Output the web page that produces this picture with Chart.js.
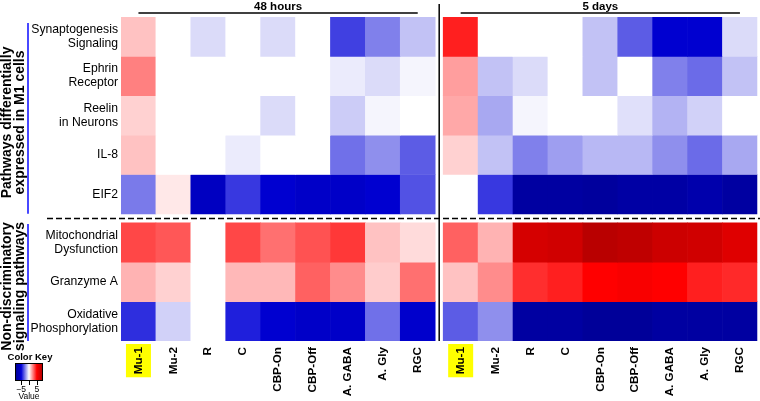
<!DOCTYPE html>
<html>
<head>
<meta charset="utf-8">
<script src="https://cdn.jsdelivr.net/npm/chart.js@4"></script>
<style>
    html, body { margin: 0; padding: 0; background: #fff; }
    #wrap { width: 760px; height: 401px; }
</style>
</head>
<body>
<div id="wrap"><canvas id="heatmap" width="760" height="401"></canvas></div>
<script>
// Pathway heatmap - 48 hours vs 5 days

const timepoints = ['48 hours', '5 days'];
const cellTypes = ['Mu-1', 'Mu-2', 'R', 'C', 'CBP-On', 'CBP-Off', 'A. GABA', 'A. Gly', 'RGC'];
const highlighted = 'Mu-1';

const pathways = [
    ['Synaptogenesis', 'Signaling'],
    ['Ephrin', 'Receptor'],
    ['Reelin', 'in Neurons'],
    ['IL-8'],
    ['EIF2'],
    ['Mitochondrial', 'Dysfunction'],
    ['Granzyme A'],
    ['Oxidative', 'Phosphorylation']
];
const groupLabels = [
    ['Pathways differentially', 'expressed in M1 cells'],
    ['Non-discriminatory', 'signaling pathways']
];
const groupRows = [[0, 4], [5, 7]];

// one row per pathway, one value per cell type
const values48h = [
    [1.2, 0, -0.7, 0, -0.7, 0, -3.75, -2.5, -1.2],
    [2.5, 0, 0, 0, 0, 0, -0.4, -0.7, -0.2],
    [0.9, 0, 0, 0, -0.7, 0, -1.0, -0.2, 0],
    [1.2, 0, 0, -0.4, 0, 0, -2.8, -2.2, -3.2],
    [-2.6, 0.45, -6.2, -3.9, -5.4, -5.8, -5.8, -5.4, -3.4],
    [3.6, 3.3, 0, 3.6, 2.8, 3.4, 3.9, 1.2, 0.7],
    [1.5, 0.9, 0, 1.4, 1.4, 3.1, 2.25, 1.0, 2.8],
    [-4.1, -0.9, 0, -4.4, -5.4, -5.8, -5.8, -2.8, -5.6]
];
const values5d = [
    [4.4, 0, 0, 0, -1.2, -3.2, -5.4, -5.4, -0.7],
    [1.9, -1.2, -0.7, 0, -1.2, 0, -2.5, -2.9, -1.2],
    [1.7, -1.7, -0.2, 0, 0, -0.6, -1.5, -0.9, 0],
    [0.9, -1.2, -2.5, -1.9, -1.4, -1.4, -2.2, -2.9, -1.7],
    [0, -3.9, -7.9, -7.9, -8.1, -7.7, -7.7, -7.3, -7.9],
    [3.1, 1.5, 7.0, 7.2, 8.3, 8.0, 7.4, 7.2, 6.5],
    [1.2, 2.25, 4.1, 4.4, 5.0, 5.3, 5.0, 4.4, 4.2],
    [-3.2, -2.2, -7.9, -7.9, -8.3, -8.3, -7.9, -7.9, -7.9]
];
const keyTicks = [-5, 0, 5];
const keyLabels = [-5, 5];
const keyRange = 9;

const PANEL_GAP = 0.23;
const ROW_GAP = 0.23;
const FONT = "'Liberation Sans', Arial, sans-serif";
const TICK_FONT = { family: FONT, size: 11.7, weight: 'bold' };
const TICK_PAD = 6;

const colPos = (c) => (c < cellTypes.length ? c : c + PANEL_GAP);
const rowTop = (r) => (r < 5 ? r : r + ROW_GAP);

const lerp = (a, b, t) => Math.round(a + (b - a) * t);
const valueColor = (v) => {
    const t = Math.min(Math.abs(v), keyRange);
    let rgb;
    if (v < 0) {
        rgb = t <= 5 ? [lerp(255, 0, t / 5), lerp(255, 0, t / 5), lerp(255, 215, t / 5)]
                     : [0, 0, lerp(215, 140, (t - 5) / 4)];
    } else {
        rgb = t <= 5 ? [255, lerp(255, 0, t / 5), lerp(255, 0, t / 5)]
                     : [lerp(255, 170, (t - 5) / 4), 0, 0];
    }
    return 'rgb(' + rgb.join(',') + ')';
};

const datasets = pathways.map((name, r) => {
    const rowVals = values48h[r].concat(values5d[r]);
    const top = rowTop(r);
    return {
        label: name.join(' '),
        data: rowVals.map((v, c) => ({ x: colPos(c), y: [top, top + 1] })),
        backgroundColor: rowVals.map(valueColor),
        borderWidth: 0,
        grouped: false,
        barPercentage: 1,
        categoryPercentage: 1
    };
});

// yellow box behind the highlighted cell type labels
const highlightPlugin = {
    id: 'highlight',
    beforeDraw(chart) {
        const { ctx } = chart;
        const x = chart.scales.x;
        ctx.save();
        ctx.font = 'bold ' + TICK_FONT.size + 'px ' + FONT;
        const w = ctx.measureText(highlighted).width;
        ctx.fillStyle = '#ffff00';
        timepoints.forEach((t, p) => {
            const i = cellTypes.indexOf(highlighted);
            const px = x.getPixelForValue(colPos(p * cellTypes.length + i));
            const y0 = x.top + TICK_PAD - 3;
            ctx.fillRect(px - 12.5, y0, 25, w + 6);
        });
        ctx.restore();
    }
};

// lines, panel headers, group labels and colour key
const decorPlugin = {
    id: 'decor',
    afterDraw(chart) {
        const { ctx, chartArea } = chart;
        const x = chart.scales.x;
        const y = chart.scales.y;
        const n = cellTypes.length;
        ctx.save();
        ctx.strokeStyle = '#000';
        ctx.fillStyle = '#000';

        // headers
        ctx.lineWidth = 1.5;
        ctx.font = 'bold 11.5px ' + FONT;
        ctx.textAlign = 'center';
        ctx.textBaseline = 'alphabetic';
        timepoints.forEach((t, p) => {
            const x0 = x.getPixelForValue(colPos(p * n));
            const x1 = x.getPixelForValue(colPos(p * n + n - 1));
            ctx.beginPath();
            ctx.moveTo(x0, 13);
            ctx.lineTo(x1, 13);
            ctx.stroke();
            ctx.fillText(t, (x0 + x1) / 2, 9.5);
        });

        // panel divider
        const xd = x.getPixelForValue(n - 0.5 + PANEL_GAP / 2);
        ctx.beginPath();
        ctx.moveTo(xd, 4);
        ctx.lineTo(xd, chartArea.bottom);
        ctx.stroke();

        // dashed group divider
        const yd = y.getPixelForValue(5 + ROW_GAP / 2);
        ctx.setLineDash([6, 3]);
        ctx.beginPath();
        ctx.moveTo(47, yd);
        ctx.lineTo(chart.width, yd);
        ctx.stroke();
        ctx.setLineDash([]);

        // group bars and rotated labels
        groupRows.forEach(([r0, r1], g) => {
            const yTop = y.getPixelForValue(rowTop(r0)) + (g === 0 ? 6 : 1);
            const yBot = y.getPixelForValue(rowTop(r1) + 1);
            ctx.strokeStyle = '#4848ff';
            ctx.lineWidth = 2;
            ctx.beginPath();
            ctx.moveTo(28, yTop);
            ctx.lineTo(28, yBot);
            ctx.stroke();

            ctx.save();
            ctx.translate(0, (yTop + yBot) / 2 + 4);
            ctx.rotate(-Math.PI / 2);
            ctx.font = 'bold 14px ' + FONT;
            ctx.textAlign = 'center';
            ctx.textBaseline = 'middle';
            ctx.fillStyle = '#000';
            groupLabels[g].forEach((line, i) => ctx.fillText(line, 0, 7.5 + i * 12.5));
            ctx.restore();
        });

        // colour key
        const kx0 = 15, kx1 = 43, ky0 = 363, ky1 = 381;
        const kx = (v) => kx0 + (v + keyRange) / (2 * keyRange) * (kx1 - kx0);
        ctx.fillStyle = '#000';
        ctx.font = 'bold 9.5px ' + FONT;
        ctx.textAlign = 'center';
        ctx.textBaseline = 'middle';
        ctx.fillText('Color Key', 30, 357);

        const grad = ctx.createLinearGradient(kx0, 0, kx1, 0);
        for (let v = -keyRange; v <= keyRange; v++) {
            grad.addColorStop((v + keyRange) / (2 * keyRange), valueColor(v));
        }
        ctx.fillStyle = grad;
        ctx.fillRect(kx0, ky0, kx1 - kx0, ky1 - ky0);
        ctx.strokeStyle = '#000';
        ctx.lineWidth = 1;
        ctx.strokeRect(kx0 + 0.5, ky0 + 0.5, kx1 - kx0 - 1, ky1 - ky0 - 1);

        ctx.beginPath();
        keyTicks.forEach((v) => {
            const px = Math.round(kx(v)) + 0.5;
            ctx.moveTo(px, ky1);
            ctx.lineTo(px, ky1 + 4);
        });
        ctx.stroke();

        ctx.fillStyle = '#000';
        ctx.font = '8.5px ' + FONT;
        keyLabels.forEach((v) => ctx.fillText(v < 0 ? '\u2212' + Math.abs(v) : String(v), kx(v), 390));
        ctx.fillText('Value', 29, 397);

        ctx.restore();
    }
};

new Chart(document.getElementById('heatmap'), {
    type: 'bar',
    data: { datasets },
    options: {
        responsive: false,
        animation: false,
        layout: { padding: { top: 16, right: 1, left: 0, bottom: 0 } },
        plugins: {
            legend: { display: false },
            tooltip: { enabled: false }
        },
        scales: {
            x: {
                type: 'linear',
                position: 'bottom',
                bounds: 'data',
                offset: false,
                min: -0.5,
                max: 2 * cellTypes.length - 0.5 + PANEL_GAP,
                grid: { display: false, drawTicks: false, offset: false },
                border: { display: false },
                afterBuildTicks: (axis) => {
                    axis.ticks = timepoints.flatMap((t, p) => cellTypes.map((c, i) => ({ value: colPos(p * cellTypes.length + i) })));
                },
                afterFit: (axis) => { axis.height = 60; },
                ticks: {
                    autoSkip: false,
                    minRotation: 90,
                    maxRotation: 90,
                    padding: TICK_PAD,
                    color: '#000',
                    font: TICK_FONT,
                    callback: (value, index) => cellTypes[index % cellTypes.length]
                }
            },
            y: {
                type: 'linear',
                reverse: true,
                bounds: 'data',
                min: 0,
                max: pathways.length + ROW_GAP,
                grid: { display: false, drawTicks: false },
                border: { display: false },
                afterBuildTicks: (axis) => {
                    axis.ticks = pathways.map((p, r) => ({ value: rowTop(r) + 0.5 }));
                },
                afterFit: (axis) => { axis.width = 121; },
                ticks: {
                    autoSkip: false,
                    padding: 3,
                    color: '#000',
                    font: { family: FONT, size: 12.2, lineHeight: 1.15 },
                    callback: (value, index) => pathways[index]
                }
            }
        }
    },
    plugins: [highlightPlugin, decorPlugin]
});
</script>
</body>
</html>
